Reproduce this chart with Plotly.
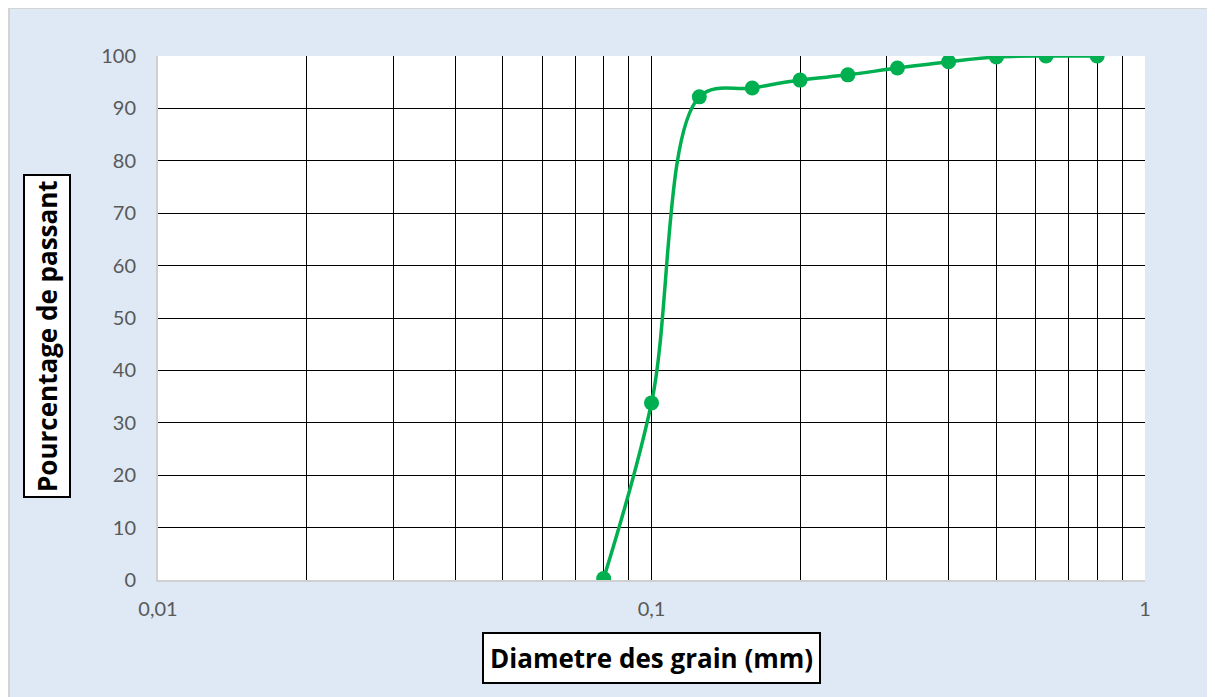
import plotly.graph_objects as go

# Data
diametre_mm = [0.08, 0.1, 0.125, 0.16, 0.2, 0.25, 0.315, 0.4, 0.5, 0.63, 0.8]
passant_pct = [0.3, 33.8, 92.2, 93.9, 95.4, 96.4, 97.7, 98.9, 99.8, 100, 100]

grid_x = [0.02, 0.03, 0.04, 0.05, 0.06, 0.07, 0.08, 0.09, 0.1,
          0.2, 0.3, 0.4, 0.5, 0.6, 0.7, 0.8, 0.9, 1]
x_tick_vals = [0.01, 0.1, 1]
x_tick_text = ["0,01", "0,1", "1"]
y_ticks = [0, 10, 20, 30, 40, 50, 60, 70, 80, 90, 100]

# The page places the figure 8px from the top-left corner (body margin)
OFF = 8
W, H = 1215 - OFF, 697 - OFF
L, R, T, B = 158 - OFF, 70, 56 - OFF, 117
pw, ph = W - L - R, H - T - B


def sx(px):  # screen px -> paper x
    return (px - OFF - L) / pw


def sy(py):  # screen px -> paper y
    return (H - B - (py - OFF)) / ph


BLUE = "#DEE9F5"
GREEN = "#00B050"
TICKFONT = "Lato, 'Open Sans', sans-serif"
TITLEFONT = "'Open Sans', 'Noto Sans', sans-serif"

fig = go.Figure()

fig.add_trace(go.Scatter(
    x=diametre_mm, y=passant_pct,
    mode="lines+markers",
    line=dict(color=GREEN, width=3.5, shape="spline", smoothing=1),
    marker=dict(color=GREEN, size=15),
    showlegend=False, hoverinfo="x+y",
))

tickvals_all = [0.01] + grid_x
ticktext_all = [x_tick_text[0]] + [
    x_tick_text[x_tick_vals.index(v)] if v in x_tick_vals else "" for v in grid_x
]

fig.update_layout(
    width=W, height=H,
    margin=dict(l=L, r=R, t=T, b=B, pad=0),
    paper_bgcolor=BLUE,
    plot_bgcolor="white",
    font=dict(family=TICKFONT, color="#595959", size=20),
    xaxis=dict(
        type="log",
        range=[-2, 0],
        tickvals=tickvals_all,
        ticktext=ticktext_all,
        showgrid=True, gridcolor="#000000", gridwidth=1.3,
        showline=True, linecolor="#D0D0D0", linewidth=2,
        ticks="", ticklabelstandoff=10,
        zeroline=False, layer="above traces",
        tickfont=dict(size=20, color="#595959", family=TICKFONT),
    ),
    yaxis=dict(
        range=[0, 100],
        tickvals=y_ticks,
        showgrid=True, gridcolor="#000000", gridwidth=1.3,
        showline=True, linecolor="#D0D0D0", linewidth=2,
        zeroline=False,
        ticks="", ticklabelstandoff=16,
        tickfont=dict(size=20, color="#595959", family=TICKFONT),
    ),
    shapes=[
        dict(type="rect", xref="paper", yref="paper", layer="below",
             x0=sx(OFF + 1), x1=sx(1300),
             y0=sy(800), y1=sy(OFF),
             fillcolor="rgba(0,0,0,0)", line=dict(color="#D4D4D4", width=2)),
    ],
    annotations=[
        dict(text="<b>Diametre des grain (mm)</b>", xref="paper", yref="paper",
             x=sx(651), y=sy(658),
             xanchor="center", yanchor="middle", showarrow=False,
             font=dict(size=26, color="black", family=TITLEFONT),
             bgcolor="white", bordercolor="black", borderwidth=2, borderpad=6),
        dict(text="<b>Pourcentage de passant</b>", xref="paper", yref="paper",
             x=sx(47), y=sy(336),
             xanchor="center", yanchor="middle", showarrow=False, textangle=-90,
             font=dict(size=26, color="black", family=TITLEFONT),
             bgcolor="white", bordercolor="black", borderwidth=2, borderpad=4),
    ],
)

fig.write_html("out.html")
